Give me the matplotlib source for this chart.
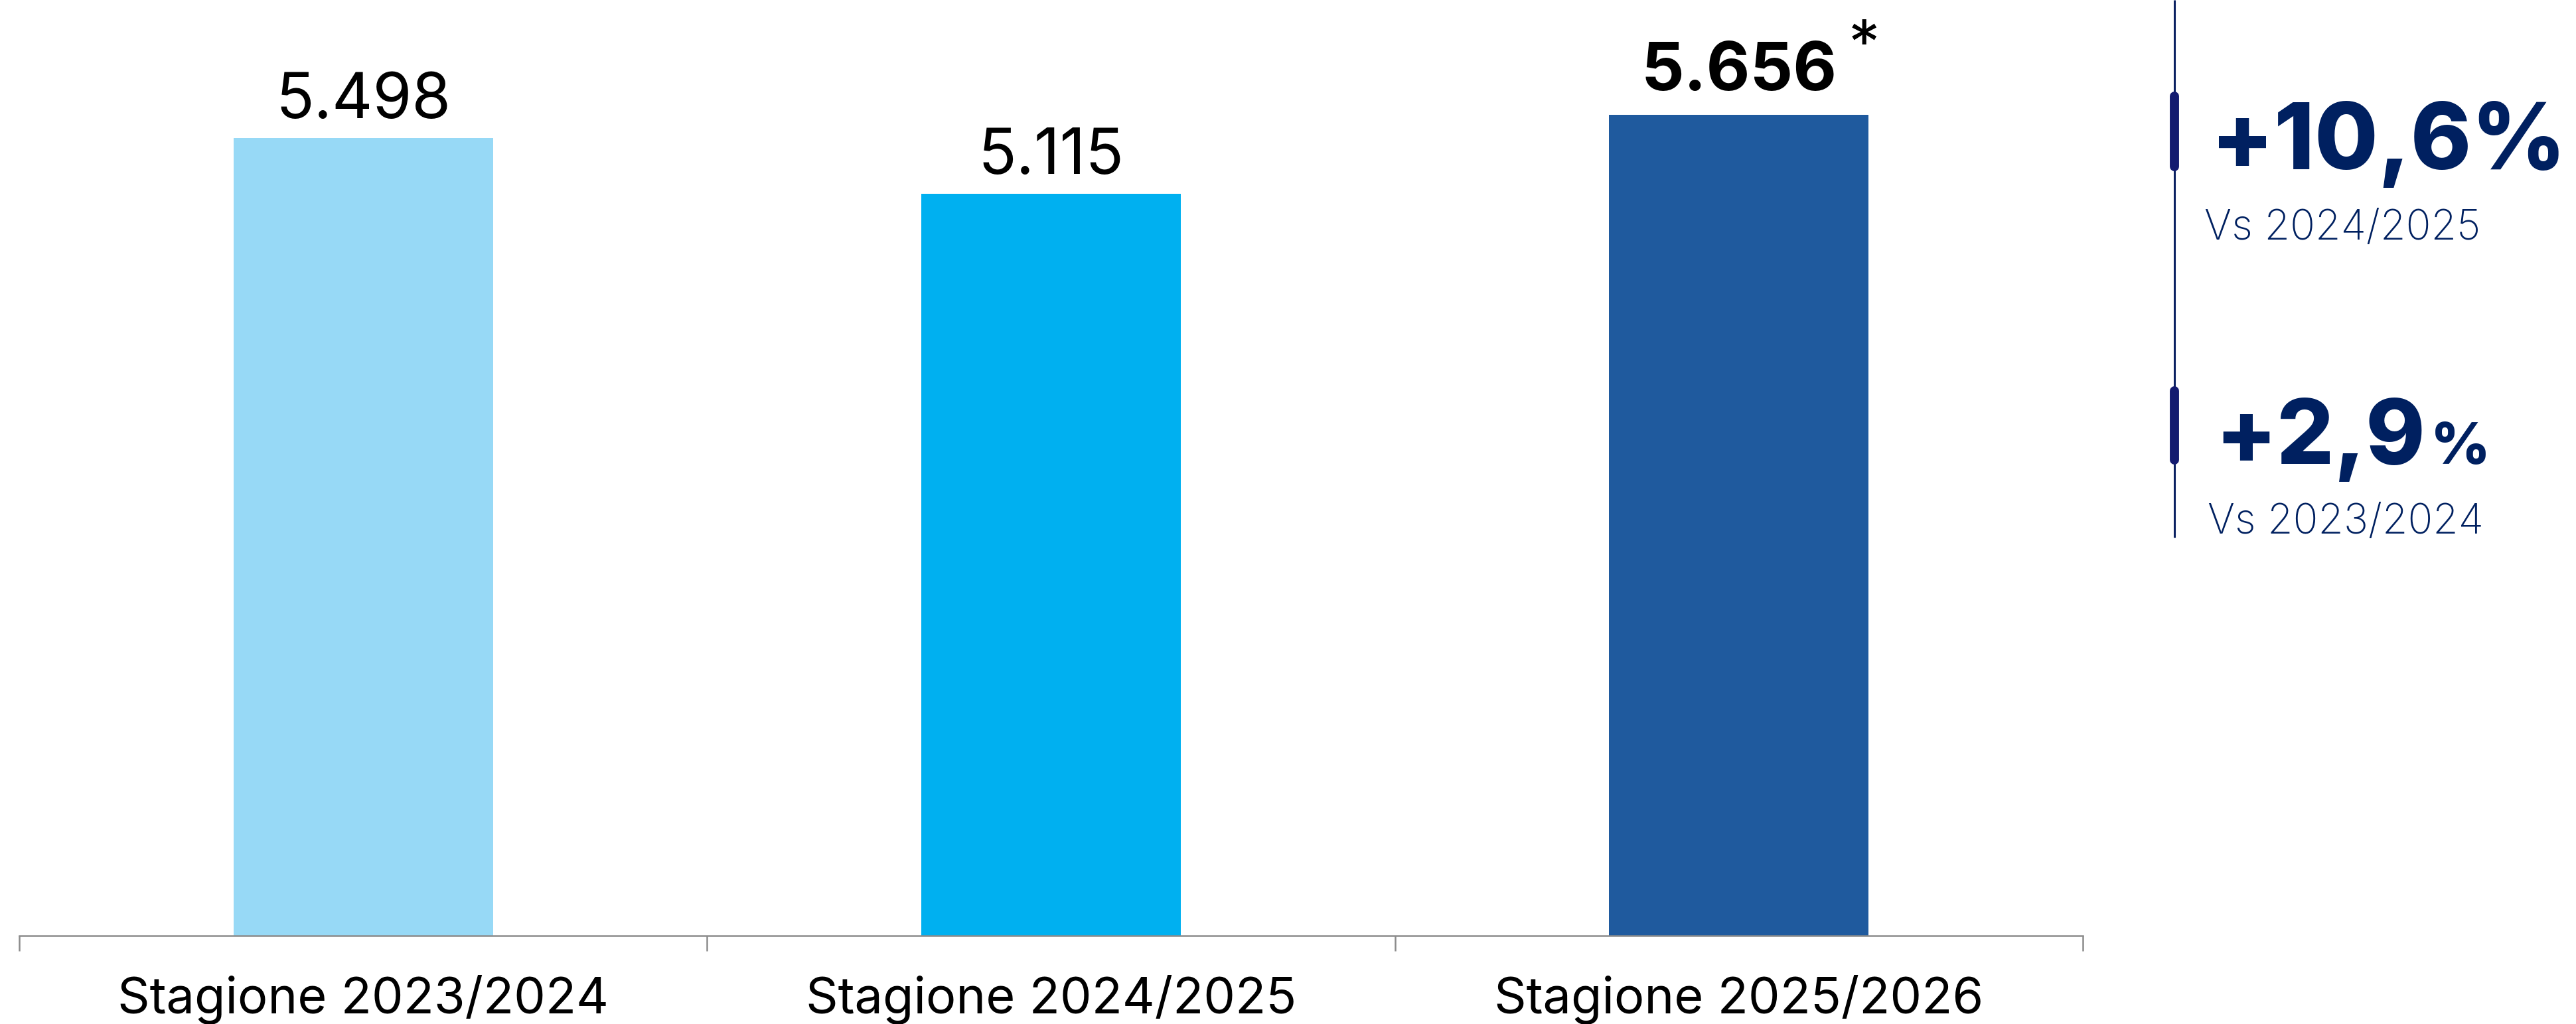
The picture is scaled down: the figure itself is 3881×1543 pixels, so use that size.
import matplotlib
matplotlib.use('Agg')
import matplotlib.pyplot as plt

categories = ['Stagione 2023/2024', 'Stagione 2024/2025', 'Stagione 2025/2026']
values = [5498, 5115, 5656]
value_labels = ['5.498', '5.115', '5.656']
bar_colors = ['#97D9F6', '#00B0F0', '#1F5A9E']
highlight_index = 2
change_main = ['+10,6', '+2,9']
change_refs = ['Vs 2024/2025', 'Vs 2023/2024']

W, H = 3881, 1543
plt.rcParams['font.family'] = ['Inter', 'DejaVu Sans']
fig = plt.figure(figsize=(W / 100, H / 100), dpi=100)

NAVY = '#002060'
GRAY = '#8C8C8C'

ymax = 6400
px_per_unit = 1202 / 5498
ax_h = ymax * px_per_unit
ax = fig.add_axes([29 / W, (H - 1410) / H, (3138 - 29) / W, ax_h / H])
xs = list(range(len(categories)))
ax.bar(xs, values, width=0.377, color=bar_colors)
ax.set_xlim(-0.5, len(categories) - 0.5)
ax.set_ylim(0, ymax)
for s in ['top', 'right', 'left']:
    ax.spines[s].set_visible(False)
ax.spines['bottom'].set_color(GRAY)
ax.spines['bottom'].set_linewidth(1.8)
ax.set_yticks([])
ax.set_xticks([i - 0.5 for i in range(len(categories) + 1)])
ax.set_xticklabels([])
ax.tick_params(axis='x', which='major', length=16.5, width=1.8, color=GRAY)
ax.set_xticks(xs, minor=True)
ax.set_xticklabels(categories, minor=True, fontsize=54.5, color='black')
ax.tick_params(axis='x', which='minor', length=0, pad=42)

for i, (v, lab) in enumerate(zip(values, value_labels)):
    bold = (i == highlight_index)
    ax.annotate(lab, (i, v), xytext=(0, 27 if bold else 21.6), textcoords='offset points',
                ha='center', va='baseline', fontsize=73 if bold else 68.5,
                fontweight='bold' if bold else 'normal', color='black')
ax.annotate('*', (highlight_index, values[highlight_index]), xytext=(136, 73),
            textcoords='offset points', ha='center', va='center', fontsize=68, color='black')

ov = fig.add_axes([0, 0, 1, 1])
ov.set_xlim(0, W)
ov.set_ylim(H, 0)
ov.axis('off')
ov.patch.set_visible(False)

ov.plot([3276, 3276], [0, 810], color='#0B2161', lw=2.2, solid_capstyle='butt')
ov.plot([3276, 3276], [145, 251], color='#131B70', lw=10, solid_capstyle='round')
ov.plot([3276, 3276], [589, 693], color='#131B70', lw=10, solid_capstyle='round')

fig.canvas.draw()
r = fig.canvas.get_renderer()


def fit(t, target_w):
    w = t.get_window_extent(r).width
    t.set_fontsize(t.get_fontsize() * target_w / w)
    return t


t1 = ov.text(3331, 255, change_main[0] + '%', fontsize=111, fontweight='heavy', color=NAVY,
             ha='left', va='baseline')
fit(t1, 535)
v1 = ov.text(3321, 361, change_refs[0], fontsize=54, fontweight='light', color=NAVY,
             ha='left', va='baseline')
fit(v1, 416)
t2 = ov.text(3337, 699, change_main[1], fontsize=111, fontweight='heavy', color=NAVY,
             ha='left', va='baseline')
fit(t2, 317)
bb = t2.get_window_extent(r)
tp = ov.text(bb.x1 + 8, 699, '%', fontsize=75, fontweight='heavy', color=NAVY,
             ha='left', va='baseline')
fit(tp, 90)
v2 = ov.text(3326, 804, change_refs[1], fontsize=54, fontweight='light', color=NAVY,
             ha='left', va='baseline')
fit(v2, 416)

fig.savefig('out.png', dpi=100)
